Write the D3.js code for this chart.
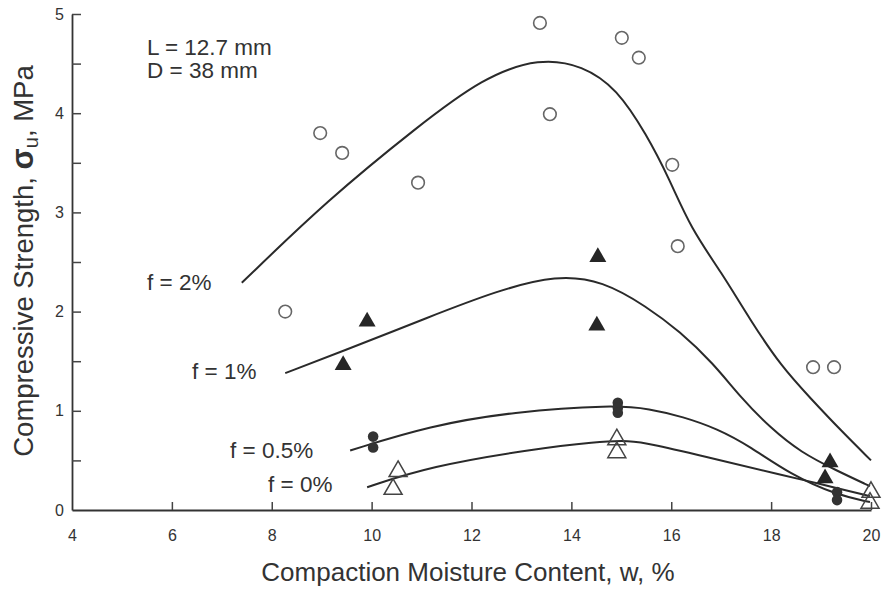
<!DOCTYPE html>
<html>
<head>
<meta charset="utf-8">
<script src="https://cdn.jsdelivr.net/npm/d3@7"></script>
<style>
body { margin: 0; background: #fff; }
text { font-family: "Liberation Sans", Arial, sans-serif; fill: #333; }
</style>
</head>
<body>
<div id="chart"></div>
<script>
// measured points, [w %, sigma MPa]
var f2Points = [[8.27, 2.0], [8.97, 3.8], [9.41, 3.6], [10.93, 3.3], [13.37, 4.91], [13.57, 3.99],
  [15.01, 4.76], [15.35, 4.56], [16.02, 3.48], [16.13, 2.66], [18.84, 1.44], [19.26, 1.44]];
var f1Points = [[9.43, 1.46], [9.91, 1.9], [14.53, 2.55], [14.51, 1.86], [19.08, 0.32], [19.18, 0.48]];
var f05Points = [[10.03, 0.74], [10.03, 0.63], [14.93, 1.08], [14.93, 1.03], [14.93, 0.98], [19.32, 0.18], [19.32, 0.1]];
var f0Points = [[10.43, 0.21], [10.53, 0.39], [14.91, 0.71], [14.91, 0.58], [20.0, 0.18], [19.98, 0.07]];

// fitted curves
var f2Curve = [[7.4, 2.29], [9.13, 3.13], [10.91, 3.86], [12.23, 4.36], [13.37, 4.56], [14.23, 4.48], [14.91, 4.25],
  [15.51, 3.78], [15.95, 3.35], [16.4, 2.83], [17.0, 2.4], [17.6, 1.9], [18.2, 1.45], [18.8, 1.12], [19.4, 0.8], [20.0, 0.5]];
var f1Curve = [[8.27, 1.38], [9.37, 1.59], [11.17, 1.95], [12.51, 2.21], [13.71, 2.37], [14.63, 2.31], [15.51, 2.05],
  [16.17, 1.8], [16.84, 1.48], [17.38, 1.14], [18.0, 0.82], [18.6, 0.58], [19.3, 0.4], [19.98, 0.24]];
var f05Curve = [[9.57, 0.6], [11.17, 0.85], [12.83, 0.99], [14.83, 1.06], [15.57, 1.02], [16.23, 0.94], [16.92, 0.82],
  [17.58, 0.64], [18.38, 0.36], [19.32, 0.15], [19.98, 0.08]];
var f0Curve = [[9.91, 0.23], [11.17, 0.44], [13.17, 0.61], [14.51, 0.69], [15.17, 0.7], [15.57, 0.67], [16.92, 0.51],
  [18.24, 0.35], [18.92, 0.27], [19.98, 0.14]];

var xTicks = [4, 6, 8, 10, 12, 14, 16, 18, 20];
var yTicks = [0, 0.5, 1, 1.5, 2, 2.5, 3, 3.5, 4, 4.5, 5];

var svgWidth = 887;
var svgHeight = 592;

var svg = d3.select("#chart")
  .append("svg")
  .attr("width", svgWidth)
  .attr("height", svgHeight);

var x = d3.scaleLinear().domain([4, 20]).range([72, 871]);
var y = d3.scaleLinear().domain([0, 5]).range([510, 14]);

// axes
var xAxis = svg.append("g")
  .attr("transform", `translate(0, ${y(0)})`)
  .call(d3.axisBottom(x).tickValues(xTicks).tickSize(-8).tickSizeOuter(0).tickPadding(20));
xAxis.selectAll(".tick").filter(d => d === 4).select("line").remove();

var yAxis = svg.append("g")
  .attr("transform", `translate(${x(4)}, 0)`)
  .call(d3.axisLeft(y).tickValues(yTicks).tickSize(-9).tickSizeOuter(0).tickPadding(8)
    .tickFormat(d => Number.isInteger(d) ? d : ""));
yAxis.selectAll(".tick").filter(d => d === 0).select("line").remove();

svg.selectAll(".domain").attr("stroke", "#333").attr("stroke-width", 1.8);
svg.selectAll(".tick line").attr("stroke", "#444").attr("stroke-width", 1.5);
svg.selectAll(".tick text")
  .style("font-family", "'Liberation Sans', Arial, sans-serif")
  .style("font-size", "16px")
  .attr("fill", "#444");

// curves (smooth hand-drawn fits)
var line = d3.line()
  .x(d => x(d[0]))
  .y(d => y(d[1]))
  .curve(d3.curveBasis);

[f2Curve, f1Curve, f05Curve, f0Curve].forEach(function(c) {
  svg.append("path")
    .datum(c)
    .attr("d", line)
    .attr("fill", "none")
    .attr("stroke", "#2a2a2a")
    .attr("stroke-width", 2);
});

// markers
svg.selectAll(".openCircle")
  .data(f2Points)
  .enter()
  .append("circle")
  .attr("cx", d => x(d[0]))
  .attr("cy", d => y(d[1]))
  .attr("r", 6.3)
  .attr("fill", "none")
  .attr("stroke", "#666")
  .attr("stroke-width", 1.6);

svg.selectAll(".fillTri")
  .data(f1Points)
  .enter()
  .append("path")
  .attr("d", d3.symbol(d3.symbolTriangle).size(125))
  .attr("transform", d => `translate(${x(d[0])}, ${y(d[1])})`)
  .attr("fill", "#262626");

svg.selectAll(".fillDot")
  .data(f05Points)
  .enter()
  .append("circle")
  .attr("cx", d => x(d[0]))
  .attr("cy", d => y(d[1]))
  .attr("r", 5.3)
  .attr("fill", "#333");

svg.selectAll(".openTri")
  .data(f0Points)
  .enter()
  .append("path")
  .attr("d", d3.symbol(d3.symbolTriangle).size(140))
  .attr("transform", d => `translate(${x(d[0])}, ${y(d[1])})`)
  .attr("fill", "none")
  .attr("stroke", "#444")
  .attr("stroke-width", 1.5);

// labels
var notes = [
  { t: "L = 12.7 mm", x: 147, y: 55 },
  { t: "D = 38 mm", x: 147, y: 78 },
  { t: "f = 2%", x: 147, y: 290 },
  { t: "f = 1%", x: 192, y: 379 },
  { t: "f = 0.5%", x: 230, y: 458 },
  { t: "f = 0%", x: 268, y: 492 }
];
svg.selectAll(".note")
  .data(notes)
  .enter()
  .append("text")
  .attr("x", d => d.x)
  .attr("y", d => d.y)
  .style("font-size", "22.5px")
  .text(d => d.t);

svg.append("text")
  .attr("x", 468)
  .attr("y", 581)
  .attr("text-anchor", "middle")
  .style("font-size", "26px")
  .text("Compaction Moisture Content, w, %");

var yTitle = svg.append("text")
  .attr("transform", "translate(33, 261) rotate(-90)")
  .attr("text-anchor", "middle")
  .style("font-size", "27.5px");
yTitle.append("tspan").text("Compressive Strength, ");
yTitle.append("tspan").style("font-size", "31px").style("font-weight", "bold").text("σ");
yTitle.append("tspan").style("font-size", "20px").attr("dy", 5).text("u");
yTitle.append("tspan").attr("dy", -5).text(", MPa");
</script>
</body>
</html>
